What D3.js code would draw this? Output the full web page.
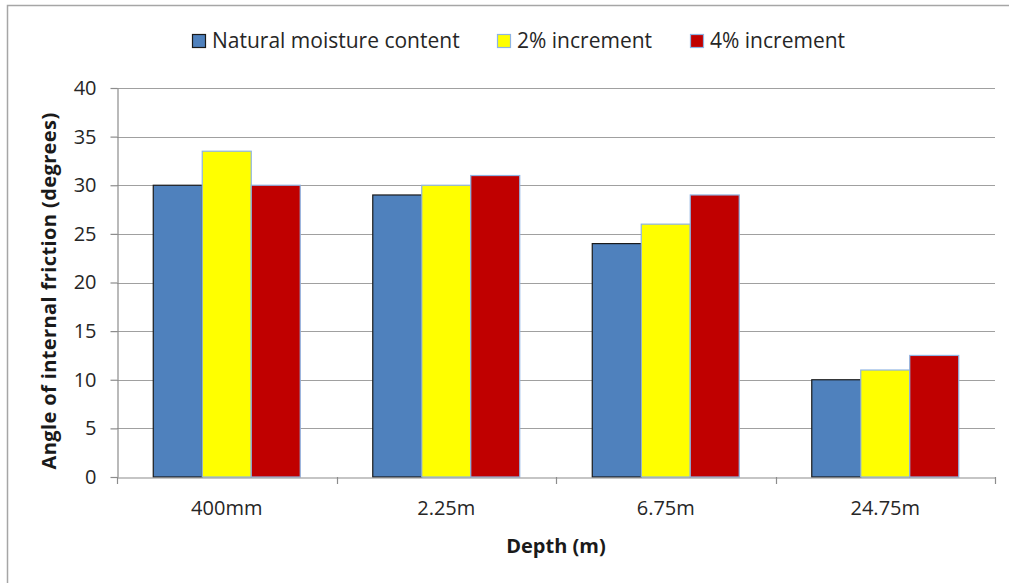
<!DOCTYPE html>
<html>
<head>
<meta charset="utf-8">
<script src="https://cdn.jsdelivr.net/npm/d3@7"></script>
<style>
  html, body { margin: 0; padding: 0; background: #fff; }
  svg { display: block; font-family: "Open Sans", sans-serif; }
</style>
</head>
<body>
<svg id="chart" width="1009" height="583"></svg>
<script>
// Depth categories and friction angle per moisture condition
const depths = ["400mm", "2.25m", "6.75m", "24.75m"];
const seriesNames = ["Natural moisture content", "2% increment", "4% increment"];
const naturalMoisture = [30, 29, 24, 10];
const increment2 = [33.5, 30, 26, 11];
const increment4 = [30, 31, 29, 12.5];
const yTicks = [0, 5, 10, 15, 20, 25, 30, 35, 40];

const seriesValues = [naturalMoisture, increment2, increment4];
const fills = ["#4f81bd", "#ffff00", "#c00000"];
const strokes = ["#1a1a1a", "#8eb4e3", "#8eb4e3"];

const svg = d3.select("#chart");

// outer frame
svg.append("rect")
  .attr("x", 7.5).attr("y", 5.5)
  .attr("width", 1020).attr("height", 600)
  .attr("fill", "none").attr("stroke", "#a6a6a6").attr("stroke-width", 1.5);

const plot = { left: 117, right: 995, top: 88, bottom: 477 };

const x0 = d3.scaleBand().domain(depths).range([plot.left, plot.right]).paddingInner(0).paddingOuter(0);
const x1 = d3.scaleBand().domain(d3.range(seriesNames.length))
  .range([0, x0.bandwidth()]).paddingOuter(0.74).paddingInner(0);
const y = d3.scaleLinear().domain([0, 40]).range([plot.bottom, plot.top]);

// gridlines
svg.append("g")
  .selectAll("line").data(yTicks.filter(t => t > 0)).join("line")
  .attr("x1", plot.left).attr("x2", plot.right)
  .attr("y1", d => Math.round(y(d)) + 0.5).attr("y2", d => Math.round(y(d)) + 0.5)
  .attr("stroke", "#a0a0a0").attr("stroke-width", 1.2);

// y axis
const yAxis = svg.append("g")
  .attr("transform", `translate(${plot.left + 0.5},0)`)
  .call(d3.axisLeft(y).tickValues(yTicks).tickSize(7).tickPadding(14).tickSizeOuter(0));
yAxis.select(".domain").attr("stroke", "#8c8c8c").attr("stroke-width", 1.2);
yAxis.selectAll(".tick line").attr("stroke", "#8c8c8c").attr("stroke-width", 1.2);
yAxis.selectAll("text").attr("font-size", 20).attr("fill", "#262626")
  .attr("font-family", "'Open Sans', sans-serif");

// bars
const groups = svg.append("g").selectAll("g").data(depths).join("g")
  .attr("transform", d => `translate(${x0(d)},0)`);
groups.selectAll("rect")
  .data((d, i) => seriesValues.map((vals, s) => ({ s, v: vals[i] })))
  .join("rect")
  .attr("x", d => x1(d.s))
  .attr("width", x1.bandwidth())
  .attr("y", d => y(d.v))
  .attr("height", d => y(0) - y(d.v))
  .attr("fill", d => fills[d.s])
  .attr("stroke", d => strokes[d.s])
  .attr("stroke-width", 1.2);

// x axis
const xAxis = svg.append("g")
  .attr("transform", `translate(0,${plot.bottom + 0.5})`)
  .call(d3.axisBottom(x0).tickSize(0).tickPadding(23));
xAxis.select(".domain").attr("stroke", "#8c8c8c").attr("stroke-width", 1.2);
xAxis.selectAll("text").attr("font-size", 20).attr("fill", "#262626")
  .attr("font-family", "'Open Sans', sans-serif");
// category separator ticks
const sepPos = depths.map(d => x0(d)).concat([plot.right]);
svg.append("g").selectAll("line").data(sepPos).join("line")
  .attr("x1", d => Math.round(d) + 0.5).attr("x2", d => Math.round(d) + 0.5)
  .attr("y1", plot.bottom).attr("y2", plot.bottom + 7)
  .attr("stroke", "#8c8c8c").attr("stroke-width", 1.2);

// axis titles
svg.append("text")
  .attr("x", 556).attr("y", 553)
  .attr("text-anchor", "middle")
  .attr("font-size", 20).attr("font-weight", "bold").attr("fill", "#1a1a1a")
  .text("Depth (m)");
svg.append("text")
  .attr("transform", "translate(56,291) rotate(-90)")
  .attr("text-anchor", "middle")
  .attr("font-size", 20).attr("font-weight", "bold").attr("fill", "#1a1a1a")
  .attr("letter-spacing", 0.4)
  .text("Angle of internal friction (degrees)");

// legend
const legendX = [192, 497, 690];
const legend = svg.append("g").selectAll("g").data(seriesNames).join("g")
  .attr("transform", (d, i) => `translate(${legendX[i]},34)`);
legend.append("rect")
  .attr("x", 0.5).attr("y", 0.5).attr("width", 13).attr("height", 13)
  .attr("fill", (d, i) => fills[i]).attr("stroke", (d, i) => strokes[i]).attr("stroke-width", 1.2);
legend.append("text")
  .attr("x", 20).attr("y", 14)
  .attr("font-size", 21).attr("fill", "#262626")
  .text(d => d);
</script>
</body>
</html>
